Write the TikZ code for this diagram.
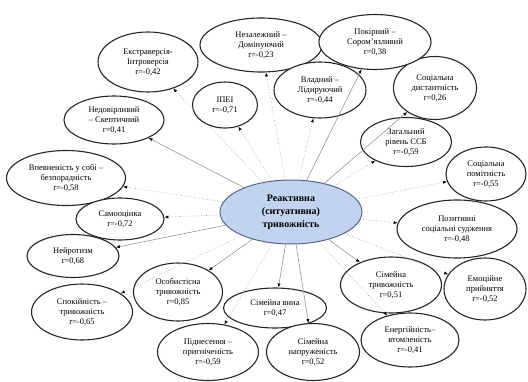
\documentclass[tikz,border=0pt]{standalone}
\usepackage{fontspec}
\setmainfont{Liberation Serif}
\usepackage{xcolor}
\usepackage{tikz}
\usetikzlibrary{arrows.meta,shapes.geometric}
\definecolor{centrefill}{RGB}{193,211,238}
\definecolor{centreline}{RGB}{84,104,138}
\definecolor{linkgray}{RGB}{150,150,150}
\newcommand{\anxnode}[6]{%
  \node[factor,minimum width=#4,minimum height=#5] (#1) at (#2,#3) {#6};%
}
\newcommand{\anxlink}[2]{%
  \draw[link,#2] (react) -- (#1);%
}

\begin{document}
\begin{tikzpicture}[x=1pt,y=-1pt,
  factor/.style={ellipse,draw=black!85,line width=1.1pt,fill=white,inner sep=0pt,
    align=center,font=\fontsize{8.5}{10}\selectfont},
  link/.style={linkgray,line width=0.6pt,-{Latex[length=4pt,width=3.2pt,black]}},
  dots/.style={dotted}]
  \useasboundingbox (0,0) rectangle (528,381);
  % centre
  \node[ellipse,draw=centreline,line width=1pt,fill=centrefill,minimum width=142,
    minimum height=64,inner sep=0pt,align=center,
    font=\fontsize{10}{13}\selectfont\bfseries] (react) at (291,212)
    {Реактивна\\(ситуативна)\\тривожність};
  % left side
  \anxnode{extra}{148}{62}{100}{60}{Екстраверсія-\\Інтроверсія\\r=-0,42}
  \anxnode{indep}{261}{45}{122}{54}{Незалежний –\\Домінуючий\\r=-0,23}
  \anxnode{ipei}{225}{105}{65}{46}{ІПЕІ\\r=-0,71}
  \anxnode{distrust}{114}{120}{100}{48}{Недовірливий\\– Скептичний\\r=0,41}
  \anxnode{confid}{66}{178}{119}{55}{Впевненість у собі –\\безпорадність\\r=-0,58}
  \anxnode{selfest}{120}{219}{88}{42}{Самооцінка\\r=-0,72}
  \anxnode{neuro}{73}{256}{92}{43}{Нейротизм\\r=0,68}
  \anxnode{calm}{82}{312}{101}{56}{Спокійність –\\тривожність\\r=-0,65}
  \anxnode{personal}{178}{292}{89}{58}{Особистісна\\тривожність\\r=0,85}
  \anxnode{elation}{208}{352}{101}{57}{Піднесення –\\пригніченість\\r=-0,59}
  % bottom and right side
  \anxnode{guilt}{275}{308}{103}{40}{Сімейна вина\\r=0,47}
  \anxnode{tension}{313}{352}{93}{57}{Сімейна\\напруженість\\r=0,52}
  \anxnode{energy}{410}{340}{98}{54}{Енергійність–\\втомленість\\r=-0,41}
  \anxnode{famanx}{391}{285}{101}{56}{Сімейна\\тривожність\\r=0,51}
  \anxnode{accept}{485}{289}{82}{62}{Емоційне\\прийняття\\r=-0,52}
  \anxnode{positive}{457}{229}{120}{58}{Позитивні\\соціальні судження\\r=-0,48}
  \anxnode{notice}{486}{174}{80}{54}{Соціальна\\помітність\\r=-0,55}
  \anxnode{general}{406}{142}{91}{49}{Загальний\\рівень ССБ\\r=-0,59}
  \anxnode{distance}{435}{88}{83}{63}{Соціальна\\дистантність\\r=0,26}
  \anxnode{submiss}{375}{42}{112}{55}{Покірний –\\Сором’язливий\\r=0,38}
  \anxnode{leader}{320}{90}{92}{56}{Владний –\\Лідируючий\\r=-0,44}
  % connectors
  \anxlink{extra}{dots}
  \anxlink{indep}{dots}
  \anxlink{ipei}{dots}
  \anxlink{distrust}{}
  \anxlink{confid}{dots}
  \anxlink{selfest}{dots}
  \anxlink{neuro}{}
  \anxlink{calm}{dots}
  \anxlink{personal}{}
  \anxlink{elation}{dots}
  \anxlink{guilt}{}
  \anxlink{tension}{}
  \anxlink{energy}{dots}
  \anxlink{famanx}{}
  \anxlink{accept}{dots}
  \anxlink{positive}{dots}
  \anxlink{notice}{dots}
  \anxlink{general}{dots}
  \anxlink{distance}{}
  \anxlink{submiss}{}
  \anxlink{leader}{dots}
\end{tikzpicture}
\end{document}
